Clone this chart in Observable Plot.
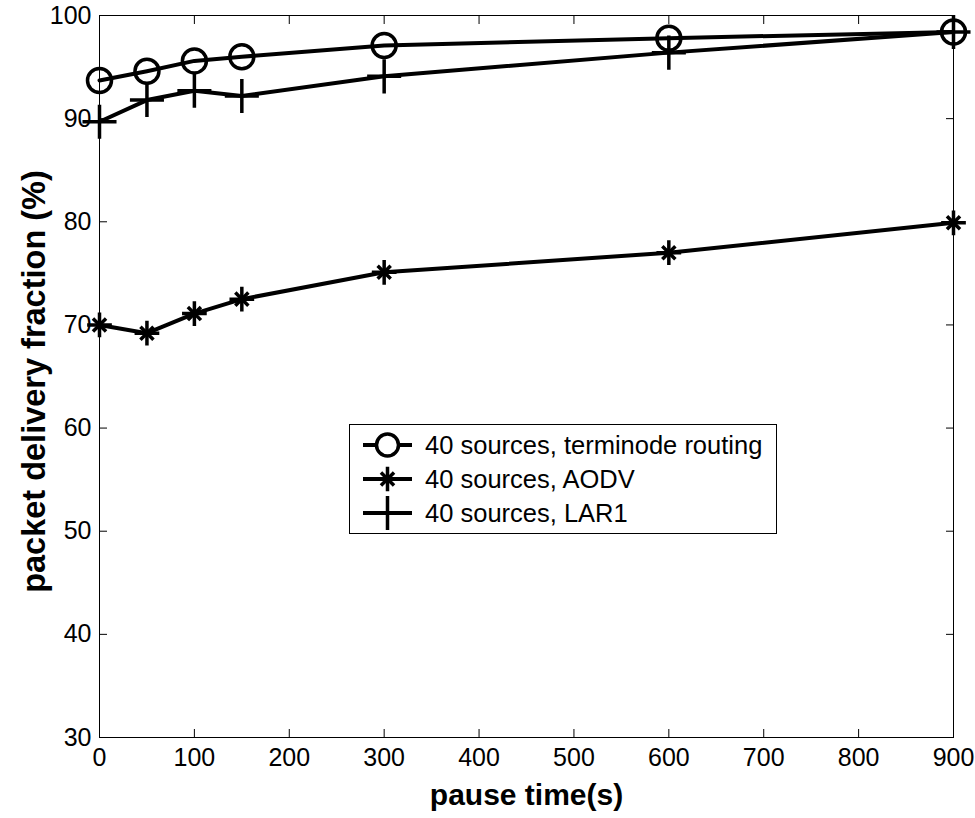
<!DOCTYPE html>
<html><head><meta charset="utf-8">
<script src="https://cdn.jsdelivr.net/npm/d3@7"></script>
<script src="https://cdn.jsdelivr.net/npm/@observablehq/plot@0.6"></script>
<style>
body{margin:0;background:#fff;font-family:"Liberation Sans",Arial,sans-serif;}
#wrap{position:relative;width:975px;height:818px;overflow:hidden;}
#legend{position:absolute;left:349px;top:424px;}
</style></head><body><div id="wrap"></div>
<script>
const pauseTimes = [0, 50, 100, 150, 300, 600, 900];
const terminode = [93.7, 94.6, 95.6, 96.0, 97.1, 97.8, 98.4];
const aodv = [70.0, 69.2, 71.1, 72.5, 75.1, 77.0, 79.9];
const lar1 = [89.7, 91.8, 92.7, 92.2, 94.1, 96.4, 98.4];
const seriesNames = ["40 sources, terminode routing", "40 sources, AODV", "40 sources, LAR1"];
const xTicks = [0, 100, 200, 300, 400, 500, 600, 700, 800, 900];
const yTicks = [30, 40, 50, 60, 70, 80, 90, 100];
const xLabel = "pause time(s)";
const yLabel = "packet delivery fraction (%)";

const rows = (vals, name) => pauseTimes.map((t, i) => ({t, v: vals[i], name}));
const dT = rows(terminode, seriesNames[0]);
const dA = rows(aodv, seriesNames[1]);
const dL = rows(lar1, seriesNames[2]);

const lineW = 4;
const symW = 3.5;
const chart = Plot.plot({
  width: 975, height: 818,
  marginLeft: 99, marginRight: 22, marginTop: 15, marginBottom: 81,
  style: {fontFamily: '"Liberation Sans", Arial, sans-serif', fontSize: "25px", color: "#000", background: "#fff", overflow: "visible"},
  x: {domain: [0, 900]},
  y: {domain: [30, 100]},
  marks: [
    Plot.frame({stroke: "#000", strokeWidth: 1}),
    Plot.axisX({ticks: xTicks, tickSize: -8, tickPadding: 19, label: null, fontSize: 25, tickFormat: d => String(d)}),
    Plot.axisX({anchor: "top", ticks: xTicks, tickSize: -8, label: null, tickFormat: () => ""}),
    Plot.axisY({ticks: yTicks, tickSize: -8, tickPadding: 16, label: null, fontSize: 25, tickFormat: d => String(d)}),
    Plot.axisY({anchor: "right", ticks: yTicks, tickSize: -8, label: null, tickFormat: () => ""}),
    Plot.line(dT, {x: "t", y: "v", stroke: "#000", strokeWidth: lineW}),
    Plot.line(dA, {x: "t", y: "v", stroke: "#000", strokeWidth: lineW}),
    Plot.line(dL, {x: "t", y: "v", stroke: "#000", strokeWidth: lineW}),
    Plot.dot(dT, {x: "t", y: "v", symbol: "circle", r: 12, stroke: "#000", fill: "none", strokeWidth: symW}),
    Plot.dot(dL, {x: "t", y: "v", symbol: "plus", r: 11, stroke: "#000", strokeWidth: symW}),
    Plot.dot(dA, {x: "t", y: "v", symbol: "plus", r: 8, stroke: "#000", strokeWidth: symW}),
    Plot.dot(dA, {x: "t", y: "v", symbol: "times", r: 6, stroke: "#000", strokeWidth: symW}),
    Plot.text([xLabel], {frameAnchor: "bottom", dy: 58, text: d => d, fontSize: 30, fontWeight: "bold", lineAnchor: "middle", textAnchor: "middle"}),
    Plot.text([yLabel], {frameAnchor: "left", dx: -65, dy: 5, rotate: -90, text: d => d, fontSize: 32.5, fontWeight: "bold", lineAnchor: "middle", textAnchor: "middle"})
  ]
});
const wrap = document.getElementById("wrap");
wrap.appendChild(chart);

// legend overlay (inside plot area, like the original)
const lw = 428, lh = 110;
const leg = d3.select(wrap).append("svg").attr("id", "legend").attr("width", lw).attr("height", lh)
  .style("font-family", '"Liberation Sans", Arial, sans-serif');
leg.append("rect").attr("x", 0.5).attr("y", 0.5).attr("width", lw - 1).attr("height", lh - 1)
  .attr("fill", "#fff").attr("stroke", "#000").attr("stroke-width", 1);
const symSets = [[["circle", 11]], [["plus", 8], ["times", 6]], [["plus", 11]]];
const symMap = {circle: d3.symbolCircle, plus: d3.symbolPlus, times: d3.symbolTimes};
seriesNames.forEach((name, i) => {
  const cy = 21 + i * 34;
  const g = leg.append("g").attr("transform", `translate(0,${cy})`);
  g.append("line").attr("x1", 14).attr("x2", 63).attr("stroke", "#000").attr("stroke-width", lineW);
  symSets[i].forEach(([s, r]) => {
    g.append("path").attr("transform", "translate(38.5,0)")
      .attr("d", d3.symbol(symMap[s], Math.PI * r * r)())
      .attr("fill", s === "circle" ? "#fff" : "none").attr("stroke", "#000").attr("stroke-width", symW);
  });
  g.append("text").attr("x", 76).attr("dy", "0.35em").attr("font-size", 25.5).text(name);
});
</script>
</body></html>
